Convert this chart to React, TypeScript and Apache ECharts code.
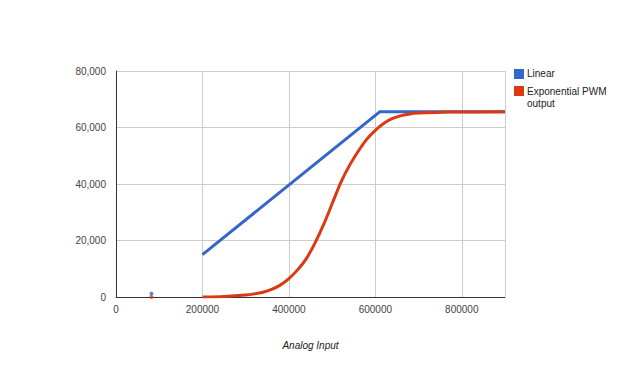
import React, { useEffect, useRef } from "react";
import * as echarts from "echarts";

// Analog input (x) values and outputs
const linearX = [200000, 610000, 900000];
const linearY = [15000, 65535, 65535];
const linearIsolated: [number, number][] = [[82000, 1200]];

const expX = [
  200000, 250000, 300000, 320000, 340000, 360000, 380000, 400000, 420000, 440000,
  460000, 480000, 500000, 520000, 540000, 560000, 580000, 600000, 620000, 640000,
  660000, 680000, 700000, 740000, 800000, 900000,
];
const expY = [
  0, 200, 700, 1100, 1700, 2700, 4200, 6500, 9600, 13500,
  19000, 25500, 33000, 40500, 46500, 51500, 55800, 59000, 61500, 63200,
  64200, 64800, 65100, 65350, 65500, 65535,
];
const expIsolated: [number, number][] = [[82000, 0]];

const seriesNames = ["Linear", "Exponential PWM output"];
const colors = ["#3366cc", "#dc3912"];
const xTitle = "Analog Input";

export default function App() {
  const ref = useRef<HTMLDivElement>(null);
  useEffect(() => {
    if (!ref.current) return;
    const chart = echarts.init(ref.current, undefined, { renderer: "svg" });
    const font = "Arial, 'Liberation Sans', sans-serif";
    chart.setOption({
      animation: false,
      backgroundColor: "#ffffff",
      textStyle: { fontFamily: font },
      grid: { left: 116, top: 71, width: 389, height: 226, containLabel: false },
      legend: { show: false },
      xAxis: {
        type: "value",
        min: 0,
        max: 900000,
        interval: 200000,
        name: xTitle,
        nameLocation: "middle",
        nameGap: 43,
        nameTextStyle: { fontStyle: "italic", fontSize: 10, color: "#222", fontFamily: font },
        axisLine: { show: true, lineStyle: { color: "#333", width: 1 } },
        axisTick: { show: false },
        axisLabel: {
          fontSize: 10,
          color: "#444",
          margin: 7,
          showMaxLabel: false,
          formatter: (v: number) => (v === 900000 ? "" : String(v)),
        },
        splitLine: { show: true, lineStyle: { color: "#cccccc", width: 1 } },
      },
      yAxis: {
        type: "value",
        min: 0,
        max: 80000,
        interval: 20000,
        axisLine: { show: true, lineStyle: { color: "#333", width: 1 } },
        axisTick: { show: false },
        axisLabel: {
          fontSize: 10,
          color: "#444",
          margin: 10,
          formatter: (v: number) => v.toLocaleString("en-US"),
        },
        splitLine: { show: true, lineStyle: { color: "#cccccc", width: 1 } },
      },
      series: [
        {
          name: seriesNames[0],
          type: "line",
          data: linearX.map((x, i) => [x, linearY[i]]),
          showSymbol: false,
          lineStyle: { color: colors[0], width: 3 },
          itemStyle: { color: colors[0] },
          z: 2,
        },
        {
          name: seriesNames[1],
          type: "line",
          smooth: 0.3,
          data: expX.map((x, i) => [x, expY[i]]),
          showSymbol: false,
          lineStyle: { color: colors[1], width: 3 },
          itemStyle: { color: colors[1] },
          z: 3,
        },
        {
          name: seriesNames[0] + " point",
          type: "scatter",
          data: linearIsolated,
          symbolSize: 4,
          itemStyle: { color: colors[0] },
          z: 4,
        },
        {
          name: seriesNames[1] + " point",
          type: "scatter",
          data: expIsolated,
          symbolSize: 4,
          itemStyle: { color: colors[1] },
          z: 4,
        },
      ],
      graphic: [
        { type: "rect", left: 514, top: 69, shape: { width: 10, height: 10 }, style: { fill: colors[0] } },
        {
          type: "text",
          left: 527,
          top: 68,
          style: { text: seriesNames[0], fontSize: 10, fill: "#222", fontFamily: font },
        },
        { type: "rect", left: 514, top: 86, shape: { width: 10, height: 10 }, style: { fill: colors[1] } },
        {
          type: "text",
          left: 527,
          top: 85,
          style: {
            text: "Exponential PWM\noutput",
            fontSize: 10,
            lineHeight: 12,
            fill: "#222",
            fontFamily: font,
          },
        },
      ],
    });
    return () => chart.dispose();
  }, []);
  return (
    <div
      ref={ref}
      style={{ position: "absolute", left: 0, top: 0, width: 620, height: 368 }}
    />
  );
}
